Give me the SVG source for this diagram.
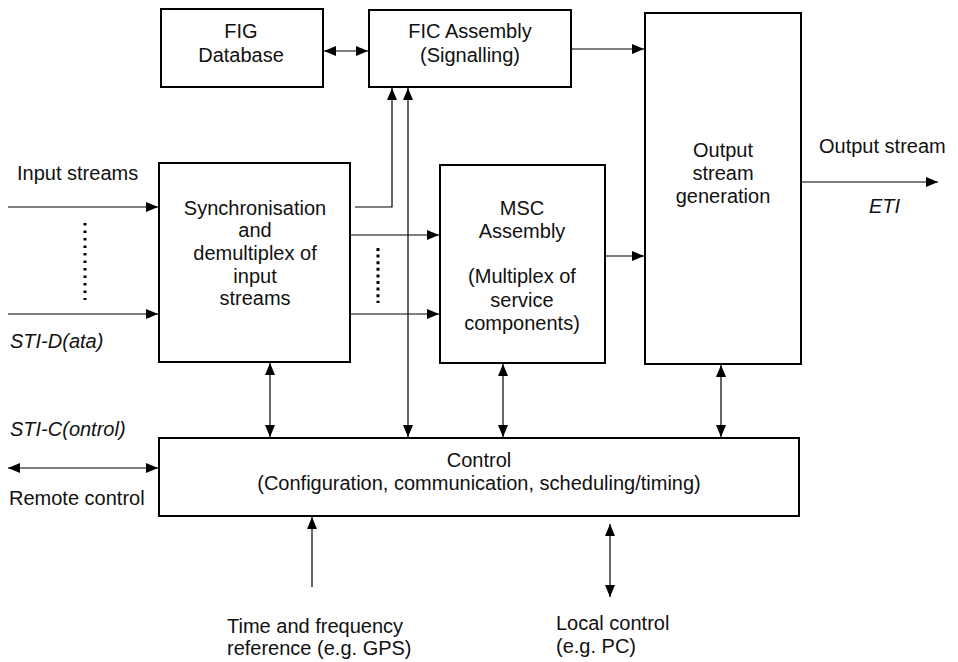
<svg xmlns="http://www.w3.org/2000/svg" width="958" height="662" viewBox="0 0 958 662">
<defs>
<marker id="ah" markerUnits="userSpaceOnUse" markerWidth="13" markerHeight="11" refX="12" refY="5" orient="auto-start-reverse">
<path d="M0,0 L12,5 L0,10 z" fill="#000"/>
</marker>
<style>
.box{fill:#fff;stroke:#000;stroke-width:2}
.t{font-family:"Liberation Sans",Arial,sans-serif;font-size:20px;fill:#111}
.c{text-anchor:middle}
.i{font-style:italic}
.ln{fill:none;stroke:#000;stroke-width:1.2}
.a{marker-end:url(#ah)}
.b{marker-start:url(#ah);marker-end:url(#ah)}
.dot{fill:none;stroke:#000;stroke-width:3;stroke-dasharray:3 3.6}
.dot2{fill:none;stroke:#000;stroke-width:3;stroke-dasharray:2.6 4.9}
</style>
</defs>
<rect width="958" height="662" fill="#fff"/>
<g id="connectors">
<line class="ln b" x1="324" y1="51" x2="368" y2="51"/>
<line class="ln a" x1="572" y1="49" x2="644" y2="49"/>
<line class="ln a" x1="802" y1="182" x2="938" y2="182"/>
<line class="ln a" x1="8" y1="207" x2="158" y2="207"/>
<line class="ln a" x1="8" y1="314" x2="158" y2="314"/>
<line class="dot2" x1="85" y1="223" x2="85" y2="300"/>
<path class="ln a" d="M355,207 H392 V88"/>
<line class="ln b" x1="408" y1="88" x2="408" y2="437"/>
<line class="ln a" x1="351" y1="235" x2="439" y2="235"/>
<line class="ln a" x1="351" y1="314" x2="439" y2="314"/>
<line class="dot" x1="378" y1="248" x2="378" y2="303"/>
<line class="ln a" x1="606" y1="256" x2="644" y2="256"/>
<line class="ln b" x1="270" y1="363" x2="270" y2="437"/>
<line class="ln b" x1="503" y1="364" x2="503" y2="437"/>
<line class="ln b" x1="721" y1="365" x2="721" y2="437"/>
<line class="ln b" x1="8" y1="468" x2="158" y2="468"/>
<line class="ln a" x1="312" y1="587" x2="312" y2="517"/>
<line class="ln b" x1="610" y1="524" x2="610" y2="597"/>
</g>
<g id="fig-database">
<rect class="box" x="161" y="9" width="162" height="78"/>
<text class="t c" x="241" y="38">FIG</text>
<text class="t c" x="241" y="62">Database</text>
</g>
<g id="fic-assembly">
<rect class="box" x="369" y="10" width="202" height="77"/>
<text class="t c" x="470" y="38">FIC Assembly</text>
<text class="t c" x="470" y="62">(Signalling)</text>
</g>
<g id="output-generation">
<rect class="box" x="645" y="13" width="156" height="351"/>
<text class="t c" x="723" y="157">Output</text>
<text class="t c" x="723" y="180">stream</text>
<text class="t c" x="723" y="203">generation</text>
</g>
<g id="sync-demux">
<rect class="box" x="159" y="163" width="191" height="199"/>
<text class="t c" x="255" y="215">Synchronisation</text>
<text class="t c" x="255" y="237">and</text>
<text class="t c" x="255" y="260">demultiplex of</text>
<text class="t c" x="255" y="283">input</text>
<text class="t c" x="255" y="305">streams</text>
</g>
<g id="msc-assembly">
<rect class="box" x="440" y="165" width="165" height="198"/>
<text class="t c" x="522" y="215">MSC</text>
<text class="t c" x="522" y="238">Assembly</text>
<text class="t c" x="522" y="283">(Multiplex of</text>
<text class="t c" x="522" y="307">service</text>
<text class="t c" x="522" y="330">components)</text>
</g>
<g id="control">
<rect class="box" x="159" y="438" width="640" height="78"/>
<text class="t c" x="479" y="467">Control</text>
<text class="t c" x="479" y="490">(Configuration, communication, scheduling/timing)</text>
</g>
<g id="labels">
<text class="t" x="17" y="180">Input streams</text>
<text class="t i" x="10" y="348">STI-D(ata)</text>
<text class="t i" x="10" y="436">STI-C(ontrol)</text>
<text class="t" x="9" y="505">Remote control</text>
<text class="t" x="819" y="153">Output stream</text>
<text class="t i" x="869" y="213">ETI</text>
<text class="t" x="227" y="633">Time and frequency</text>
<text class="t" x="227" y="655">reference (e.g. GPS)</text>
<text class="t" x="556" y="630">Local control</text>
<text class="t" x="556" y="653">(e.g. PC)</text>
</g>
</svg>
